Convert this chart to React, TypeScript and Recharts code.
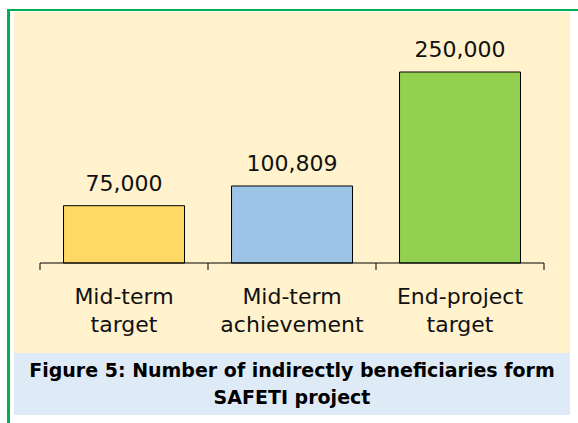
import { BarChart, Bar, XAxis, YAxis, Cell, LabelList } from 'recharts'

const categories = [['Mid-term', 'target'], ['Mid-term', 'achievement'], ['End-project', 'target']]
const values = [75000, 100809, 250000]
const barColors = ['#FFD966', '#9DC3E6', '#92D050']
const edgeTicks = [0, 1, 2, 3]
const caption = ['Figure 5: Number of indirectly beneficiaries form', 'SAFETI project']

const data = categories.map((c, i) => ({ name: c.join(' '), value: values[i], edge: i + 0.5 }))

const FONT = '"DejaVu Sans", sans-serif'

function CategoryTick(props: any) {
  const { x, y, payload } = props
  const lines = categories[payload.index] ?? []
  return (
    <text x={x} y={y} textAnchor="middle" fontFamily={FONT} fontSize={22} fill="#111">
      {lines.map((l, i) => (
        <tspan key={i} x={x} dy={i === 0 ? 40 : 28}>{l}</tspan>
      ))}
    </text>
  )
}

export default function App() {
  return (
    <div style={{ position: 'absolute', left: 0, top: 0, width: 578, height: 423, background: '#fff', overflow: 'hidden' }}>
      {/* green frame, only top + left visible */}
      <div style={{ position: 'absolute', left: 7, top: 9, width: 700, height: 600, borderLeft: '3px solid #00B050', borderTop: '2px solid #00B050' }} />
      {/* plot background */}
      <div style={{ position: 'absolute', left: 14, top: 12, width: 556, height: 341, background: '#FFF2CC' }} />
      {/* caption */}
      <div style={{ position: 'absolute', left: 14, top: 353, width: 556, height: 62, background: '#DEEAF6', fontFamily: FONT, fontWeight: 'bold', fontSize: 19, lineHeight: '27px', textAlign: 'center', color: '#000', paddingTop: 4, boxSizing: 'border-box' }}>
        {caption.map((c, i) => <div key={i}>{c}</div>)}
      </div>
      <div style={{ position: 'absolute', left: 0, top: 0 }}>
        <BarChart width={578} height={353} data={data} margin={{ top: 72, right: 34, bottom: 0, left: 40 }} barCategoryGap="14%">
          <XAxis xAxisId="a" dataKey="edge" type="number" domain={[0, 3]} ticks={edgeTicks} allowDataOverflow height={1}
            axisLine={{ stroke: '#000' }} tickLine={{ stroke: '#000' }} tickSize={7} tick={() => <g />} />
          <XAxis xAxisId="b" dataKey="name" axisLine={false} tickLine={false} tickSize={0} tickMargin={0} height={89}
            tick={<CategoryTick />} interval={0} />
          <YAxis hide domain={[0, 250000]} />
          <Bar xAxisId="b" dataKey="value" isAnimationActive={false} stroke="#000" strokeWidth={1}>
            {data.map((_, i) => <Cell key={i} fill={barColors[i]} />)}
            <LabelList dataKey="value" position="top" offset={15} fontFamily={FONT} fontSize={22} fill="#111"
              formatter={(v: any) => Number(v).toLocaleString('en-US')} />
          </Bar>
        </BarChart>
      </div>
    </div>
  )
}
